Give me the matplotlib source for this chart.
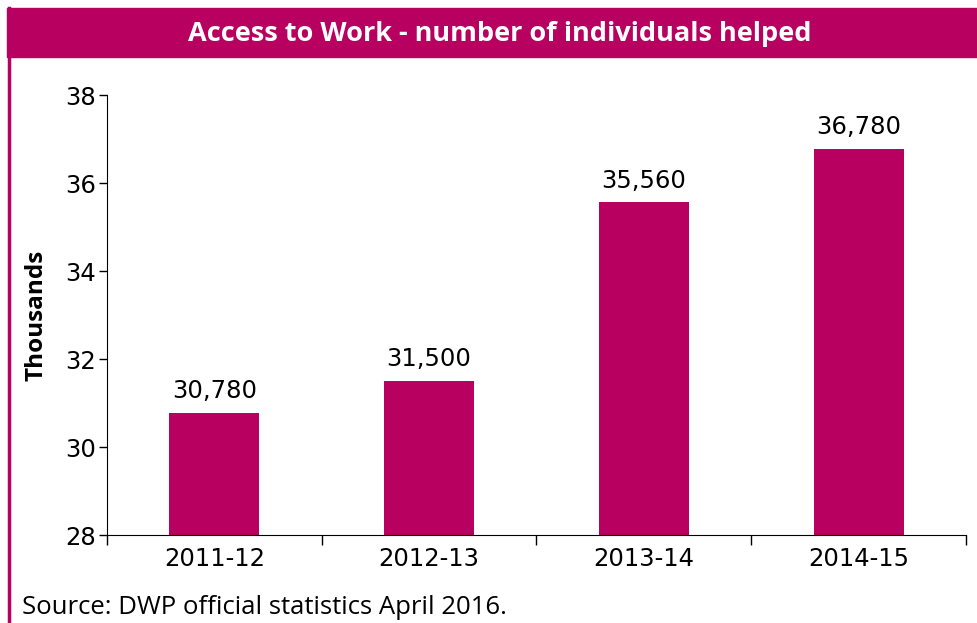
import matplotlib.pyplot as plt
from matplotlib.patches import Rectangle
from matplotlib.lines import Line2D

years = ['2011-12', '2012-13', '2013-14', '2014-15']
helped = [30780, 31500, 35560, 36780]   # individuals helped
yticks = [28, 30, 32, 34, 36, 38]

magenta = '#b7005f'
plt.rcParams['font.family'] = ['Open Sans', 'DejaVu Sans']
num_font = 'DejaVu Sans'

fig = plt.figure(figsize=(9.78, 6.23), dpi=100)

# title band and left frame line
fig.patches.append(Rectangle((7 / 978, 1 - 57 / 623), 1, 49 / 623,
                             transform=fig.transFigure, color=magenta, zorder=0))
fig.lines.append(Line2D([8.5 / 978, 8.5 / 978], [0, 1 - 8 / 623],
                        transform=fig.transFigure, color=magenta, lw=2.5))
fig.text(0.511, 1 - 34 / 623, 'Access to Work - number of individuals helped',
         color='white', fontsize=19.5, fontweight='bold', ha='center', va='center')

ax = fig.add_axes([107 / 978, 88 / 623, (966 - 107) / 978, (535 - 95) / 623])
thousands = [v / 1000 for v in helped]
x = range(len(years))
ax.bar(x, thousands, width=0.42, color=magenta)

for xi, v in zip(x, helped):
    ax.text(xi, v / 1000 + 0.22, f'{v:,}', ha='center', va='bottom',
            fontsize=17.5, family=num_font)

ax.set_ylim(28, 38)
ax.set_xlim(-0.5, len(years) - 0.5)
ax.set_yticks(yticks)
ax.set_yticklabels([str(t) for t in yticks], family=num_font, fontsize=17.5)
ax.tick_params(axis='y', length=6, width=1, direction='out', pad=2)

# category boundaries get the ticks, names sit between them
ax.set_xticks([i - 0.5 for i in range(len(years) + 1)])
ax.set_xticklabels([])
ax.set_xticks(list(x), minor=True)
ax.set_xticklabels(years, minor=True, fontsize=17.5, family=num_font)
ax.tick_params(axis='x', which='major', length=7, width=1)
ax.tick_params(axis='x', which='minor', length=0, pad=9)

ax.spines['top'].set_visible(False)
ax.spines['right'].set_visible(False)
ax.set_ylabel('Thousands', fontsize=17.5, fontweight='bold', labelpad=12)

fig.text(22 / 978, 1 - 607 / 623, 'Source: DWP official statistics April 2016.',
         fontsize=18.5, ha='left', va='center')

fig.savefig('out.png', dpi=100)
